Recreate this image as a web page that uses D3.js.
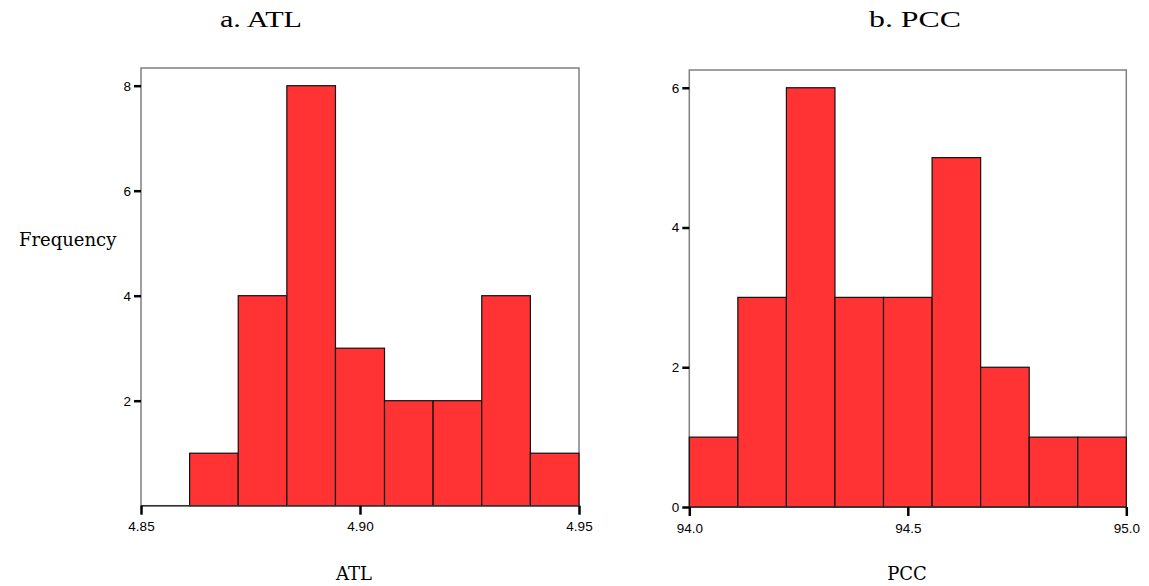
<!DOCTYPE html>
<html>
<head>
<meta charset="utf-8">
<script src="https://cdn.jsdelivr.net/npm/d3@7"></script>
<style>
  html, body { margin: 0; padding: 0; background: #ffffff; }
  svg { display: block; }
</style>
</head>
<body>
<svg id="chart" width="1149" height="586"></svg>
<script>
// ---- Data ----
const atlBinEdges = [4.85, 4.8611, 4.8722, 4.8833, 4.8944, 4.9056, 4.9167, 4.9278, 4.9389, 4.95];
const atlCounts   = [0, 1, 4, 8, 3, 2, 2, 4, 1];
const pccBinEdges = [94.0, 94.1111, 94.2222, 94.3333, 94.4444, 94.5556, 94.6667, 94.7778, 94.8889, 95.0];
const pccCounts   = [1, 3, 6, 3, 3, 5, 2, 1, 1];

const atlXTicks = [4.85, 4.90, 4.95];
const atlXTickLabels = ["4.85", "4.90", "4.95"];
const atlYTicks = [2, 4, 6, 8];
const pccXTicks = [94.0, 94.5, 95.0];
const pccXTickLabels = ["94.0", "94.5", "95.0"];
const pccYTicks = [0, 2, 4, 6];

const atlXDomain = [4.85, 4.95];
const atlYDomain = [0, 8.337];
const pccXDomain = [94.0, 95.0];
const pccYDomain = [0, 6.254];

const titles = ["a. ATL", "b. PCC"];
const xTitles = ["ATL", "PCC"];
const yTitle = "Frequency";

// ---- Drawing ----
const svg = d3.select("#chart");
const BAR_FILL = "#ff3333";
const FRAME = "#808080";

function panel(cfg) {
  const x = d3.scaleLinear().domain(cfg.xDomain).range([cfg.left, cfg.right]);
  const y = d3.scaleLinear().domain(cfg.yDomain).range([cfg.bottom, cfg.top]);
  const g = svg.append("g");

  // frame
  g.append("rect")
    .attr("x", cfg.left).attr("y", cfg.top)
    .attr("width", cfg.right - cfg.left).attr("height", cfg.bottom - cfg.top)
    .attr("fill", "#ffffff").attr("stroke", FRAME).attr("stroke-width", 1.5);

  // bars
  const bins = cfg.counts.map((c, i) => ({ x0: cfg.edges[i], x1: cfg.edges[i + 1], c }));
  g.selectAll("rect.bar").data(bins.filter(d => d.c > 0)).join("rect")
    .attr("class", "bar")
    .attr("x", d => x(d.x0))
    .attr("y", d => y(d.c))
    .attr("width", d => x(d.x1) - x(d.x0))
    .attr("height", d => y(0) - y(d.c))
    .attr("fill", BAR_FILL)
    .attr("stroke", "#111")
    .attr("stroke-width", 1.2);

  // bottom axis line
  g.append("line")
    .attr("x1", cfg.left).attr("x2", cfg.right)
    .attr("y1", y(0)).attr("y2", y(0))
    .attr("stroke", "#333").attr("stroke-width", 1.5);

  // y axis
  const ya = g.append("g")
    .attr("transform", `translate(${cfg.left},0)`)
    .call(d3.axisLeft(y).tickValues(cfg.yTicks).tickFormat(d3.format("d")).tickSize(7).tickPadding(3));
  ya.select(".domain").remove();
  ya.selectAll(".tick line").attr("stroke", "#000").attr("stroke-width", 2.5);
  ya.selectAll(".tick text")
    .attr("fill", "#000")
    .style("font-family", "'Liberation Sans', Arial, sans-serif")
    .style("font-size", "13.5px");

  // x axis
  const xa = g.append("g")
    .attr("transform", `translate(0,${y(0)})`)
    .call(d3.axisBottom(x).tickValues(cfg.xTicks)
      .tickFormat((d, i) => cfg.xTickLabels[i]).tickSize(9).tickPadding(7));
  xa.select(".domain").remove();
  xa.selectAll(".tick line").attr("stroke", "#000").attr("stroke-width", 2.5);
  xa.selectAll(".tick text")
    .attr("fill", "#000")
    .style("font-family", "'Liberation Sans', Arial, sans-serif")
    .style("font-size", "13.5px");

  // titles
  svg.append("text")
    .attr("x", cfg.titleX).attr("y", 27)
    .attr("textLength", cfg.titleLen).attr("lengthAdjust", "spacingAndGlyphs")
    .style("font-family", "'Liberation Serif', 'Times New Roman', serif")
    .style("font-size", "22.5px")
    .attr("fill", "#000")
    .text(cfg.title);

  svg.append("text")
    .attr("x", cfg.xTitleX).attr("y", 580)
    .attr("text-anchor", "middle")
    .style("font-family", "'DejaVu Serif', serif")
    .style("font-size", "18px")
    .attr("fill", "#000")
    .text(cfg.xTitle);
}

panel({
  left: 141, right: 579, top: 68, bottom: 505.7,
  xDomain: atlXDomain, yDomain: atlYDomain,
  edges: atlBinEdges, counts: atlCounts,
  xTicks: atlXTicks, xTickLabels: atlXTickLabels, yTicks: atlYTicks,
  title: titles[0], titleX: 220, titleLen: 82,
  xTitle: xTitles[0], xTitleX: 354
});

panel({
  left: 689.3, right: 1126.3, top: 70, bottom: 507,
  xDomain: pccXDomain, yDomain: pccYDomain,
  edges: pccBinEdges, counts: pccCounts,
  xTicks: pccXTicks, xTickLabels: pccXTickLabels, yTicks: pccYTicks,
  title: titles[1], titleX: 869, titleLen: 92,
  xTitle: xTitles[1], xTitleX: 907
});

svg.append("text")
  .attr("x", 19).attr("y", 246)
  .style("font-family", "'DejaVu Serif', serif")
  .style("font-size", "18px")
  .attr("fill", "#000")
  .text(yTitle);
</script>
</body>
</html>
